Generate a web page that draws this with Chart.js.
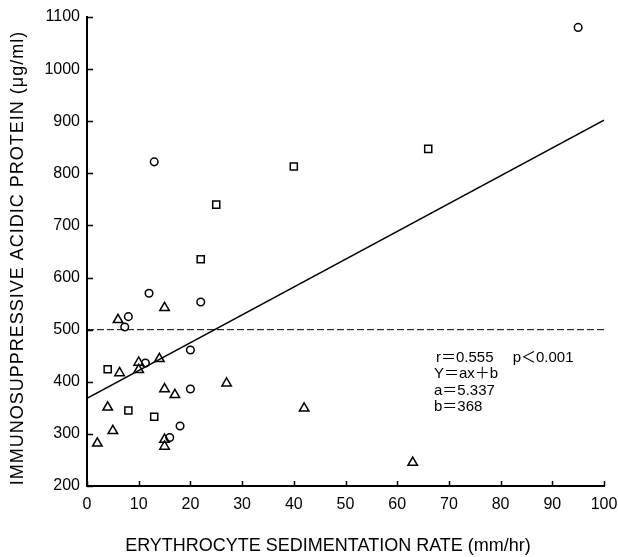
<!DOCTYPE html>
<html>
<head>
<meta charset="utf-8">
<script src="https://cdn.jsdelivr.net/npm/chart.js@4.4.1/dist/chart.umd.min.js"></script>
<style>
html, body { margin: 0; padding: 0; background: #fff; }
#wrap { width: 618px; height: 557px; position: relative; }
</style>
</head>
<body>
<div id="wrap"><canvas id="esrChart"></canvas></div>
<script>
// values (ESR in mm/hr, IAP in ug/ml)
const circleX = [95, 13, 12, 22, 8, 7.3, 20, 11.3, 20, 18, 16];
const circleY = [1080, 822, 570, 553, 525, 505, 461, 436, 386, 315, 293];

const squareX = [66, 40, 25, 22, 4, 8, 13];
const squareY = [847, 813, 740, 635, 424, 345, 333];

const triangleX = [15, 6, 14, 10, 10, 6.3, 27, 15, 17, 4, 42, 5, 15, 15, 2, 63];
const triangleY = [542, 519, 444, 437, 423, 417, 397, 386, 375, 351, 349, 306, 289, 276, 282, 245];

// regression line Y = 5.337x + 368, drawn between its two ends
const regX = [0, 100];
const regY = [368, 902];

// upper normal limit
const limitX = [0, 100];
const limitY = [500, 500];

const xTicks = [0, 10, 20, 30, 40, 50, 60, 70, 80, 90, 100];
const yTicks = [200, 300, 400, 500, 600, 700, 800, 900, 1000, 1100];

const noteLines = ["r＝0.555　 p＜0.001", "Y＝ax＋b", "a＝5.337", "b＝368"];
const xTitle = "ERYTHROCYTE SEDIMENTATION RATE (mm/hr)";
const yTitle = "IMMUNOSUPPRESSIVE ACIDIC PROTEIN (μg/ml)";

function pairs(xs, ys) {
    return xs.map((x, i) => ({ x: x, y: ys[i] }));
}

const tickFont = { family: "'Liberation Sans', Arial, sans-serif", size: 16 };

const decorations = {
    id: "decorations",
    afterDraw(chart) {
        const ctx = chart.ctx;
        const xs = chart.scales.x;
        const ys = chart.scales.y;
        const area = chart.chartArea;
        ctx.save();
        ctx.strokeStyle = "#000";
        ctx.lineWidth = 1.5;
        // tick marks point into the plot
        yTicks.forEach((v) => {
            const py = Math.round(ys.getPixelForValue(v)) + 0.5;
            ctx.beginPath();
            ctx.moveTo(area.left, py);
            ctx.lineTo(area.left + 6, py);
            ctx.stroke();
        });
        xTicks.forEach((v) => {
            const px = Math.round(xs.getPixelForValue(v)) + 0.5;
            ctx.beginPath();
            ctx.moveTo(px, area.bottom);
            ctx.lineTo(px, area.bottom - 5);
            ctx.stroke();
        });

        // statistics note
        ctx.fillStyle = "#000";
        ctx.font = "15px 'Liberation Sans', 'Noto Sans CJK JP', sans-serif";
        ctx.textAlign = "left";
        ctx.textBaseline = "middle";
        const nx = xs.getPixelForValue(67.5);
        const ny = ys.getPixelForValue(446);
        noteLines.forEach((line, i) => {
            ctx.fillText(line, nx - (i === 0 ? 0 : 2), ny + i * 16.5);
        });

        // axis titles
        ctx.font = "18px 'Liberation Sans', Arial, sans-serif";
        ctx.textAlign = "center";
        ctx.fillText(xTitle, 328, 546);
        ctx.translate(18, 258);
        ctx.rotate(-Math.PI / 2);
        ctx.letterSpacing = "1px";
        ctx.fillText(yTitle, 0, 0);
        ctx.restore();
    }
};

const pointBase = {
    borderColor: "#000",
    backgroundColor: "rgba(0,0,0,0)",
    borderWidth: 1.5,
    showLine: false
};

new Chart(document.getElementById("esrChart"), {
    type: "scatter",
    data: {
        datasets: [
            Object.assign({ label: "circle", data: pairs(circleX, circleY), pointStyle: "circle", pointRadius: 3.8 }, pointBase),
            Object.assign({ label: "square", data: pairs(squareX, squareY), pointStyle: "rect", pointRadius: 5 }, pointBase),
            Object.assign({ label: "triangle", data: pairs(triangleX, triangleY), pointStyle: "triangle", pointRadius: 5.5 }, pointBase),
            {
                label: "regression",
                data: pairs(regX, regY),
                showLine: true,
                borderColor: "#000",
                borderWidth: 1.5,
                pointRadius: 0
            },
            {
                label: "limit",
                data: pairs(limitX, limitY),
                showLine: true,
                borderColor: "#000",
                borderWidth: 1,
                borderDash: [7, 3],
                pointRadius: 0
            }
        ]
    },
    options: {
        responsive: true,
        maintainAspectRatio: false,
        animation: false,
        layout: { padding: { top: 17, right: 0, left: 0, bottom: 0 } },
        plugins: {
            legend: { display: false },
            tooltip: { enabled: false }
        },
        scales: {
            x: {
                type: "linear",
                min: 0,
                max: 100,
                afterFit: (s) => { s.height = 71; s.paddingRight = 14; },
                afterBuildTicks: (s) => { s.ticks = xTicks.map((v) => ({ value: v })); },
                ticks: { color: "#000", font: tickFont, padding: 9, maxRotation: 0, callback: (v) => String(v) },
                grid: { display: false, drawTicks: false },
                border: { display: true, color: "#000", width: 2 }
            },
            y: {
                type: "linear",
                min: 200,
                max: 1100,
                afterFit: (s) => { s.width = 87; },
                afterBuildTicks: (s) => { s.ticks = yTicks.map((v) => ({ value: v })); },
                ticks: { color: "#000", font: tickFont, padding: 7, callback: (v) => String(v) },
                grid: { display: false, drawTicks: false },
                border: { display: true, color: "#000", width: 2 }
            }
        }
    },
    plugins: [decorations]
});
</script>
</body>
</html>
